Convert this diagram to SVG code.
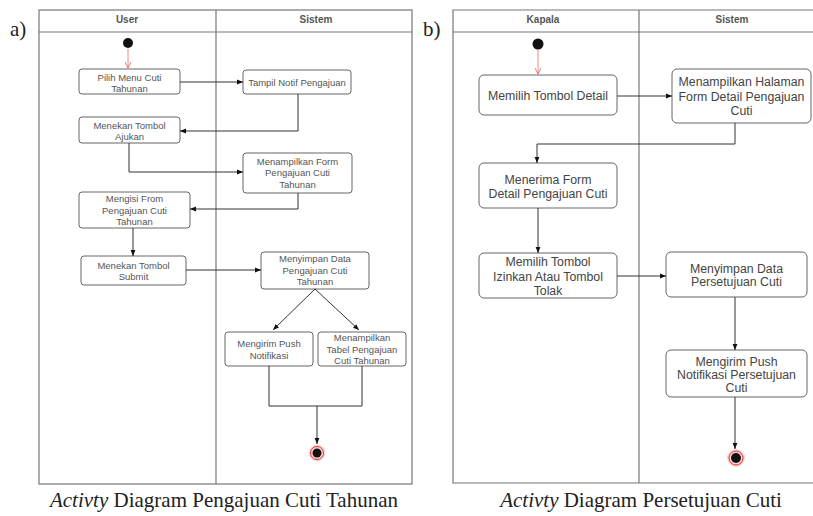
<svg xmlns="http://www.w3.org/2000/svg" width="813" height="516" viewBox="0 0 813 516">
<style>
.lane{fill:none;stroke:#777;stroke-width:1.2}
.node rect{fill:#fff;stroke:#666;stroke-width:1}
.ta{font-family:"Liberation Sans",Arial,sans-serif;font-size:9.5px;fill:#555;text-anchor:middle}
.tb{font-family:"Liberation Sans",Arial,sans-serif;font-size:12.3px;fill:#444;text-anchor:middle}
.hd{font-family:"Liberation Sans",Arial,sans-serif;font-size:10px;font-weight:bold;fill:#555;text-anchor:middle}
.edge{fill:none;stroke:#333;stroke-width:1}
.red{fill:none;stroke:#e88;stroke-width:1}
.lbl{font-family:"Liberation Serif","Times New Roman",serif;font-size:21px;fill:#222}
.cap{font-family:"Liberation Serif","Times New Roman",serif;font-size:21px;fill:#222;text-anchor:middle}
</style>
<defs>
<marker id="ar" viewBox="0 0 10 10" refX="10" refY="5" markerWidth="6" markerHeight="6" orient="auto"><path d="M0,1 L10,5 L0,9 z" fill="#111"/></marker>
<marker id="arr" viewBox="0 0 10 10" refX="10" refY="5" markerWidth="6" markerHeight="6" orient="auto"><path d="M0,0 L10,5 L0,10" fill="none" stroke="#e66" stroke-width="1.5"/></marker>
</defs>
<rect width="813" height="516" fill="#fff"/>

<!-- Panel a -->
<text class="lbl" x="10" y="36">a)</text>
<g id="laneA">
<rect class="lane" x="39" y="10" width="373" height="474"/>
<line class="lane" x1="39" y1="32" x2="412" y2="32"/>
<line class="lane" x1="216" y1="10" x2="216" y2="484"/>
<text class="hd" x="127" y="23">User</text>
<text class="hd" x="316" y="23">Sistem</text>
</g>
<g id="a_start"><circle cx="128" cy="43" r="5" fill="#111"/></g>
<g id="a_n1" class="node"><rect x="79" y="69" width="101" height="25" rx="3"/><text class="ta" x="129.5" y="80.5">Pilih Menu Cuti</text><text class="ta" x="129.5" y="91.5">Tahunan</text></g>
<g id="a_n2" class="node"><rect x="243" y="70" width="108" height="24" rx="3"/><text class="ta" x="297" y="85.5">Tampil Notif Pengajuan</text></g>
<g id="a_n3" class="node"><rect x="79" y="117" width="101" height="26" rx="3"/><text class="ta" x="129.5" y="129">Menekan Tombol</text><text class="ta" x="129.5" y="140">Ajukan</text></g>
<g id="a_n4" class="node"><rect x="243" y="153" width="109" height="40" rx="3"/><text class="ta" x="297.5" y="164.5">Menampilkan Form</text><text class="ta" x="297.5" y="176">Pengajuan Cuti</text><text class="ta" x="297.5" y="187.5">Tahunan</text></g>
<g id="a_n5" class="node"><rect x="79" y="192" width="111" height="36" rx="3"/><text class="ta" x="134.5" y="201.5">Mengisi From</text><text class="ta" x="134.5" y="213.5">Pengajuan Cuti</text><text class="ta" x="134.5" y="224.5">Tahunan</text></g>
<g id="a_n6" class="node"><rect x="81" y="256" width="105" height="29" rx="3"/><text class="ta" x="133.5" y="268.5">Menekan Tombol</text><text class="ta" x="133.5" y="279.5">Submit</text></g>
<g id="a_n7" class="node"><rect x="261" y="252" width="108" height="37" rx="3"/><text class="ta" x="315" y="261.5">Menyimpan Data</text><text class="ta" x="315" y="273.5">Pengajuan Cuti</text><text class="ta" x="315" y="285">Tahunan</text></g>
<g id="a_n8" class="node"><rect x="225" y="332" width="88" height="34" rx="3"/><text class="ta" x="269" y="346.5">Mengirim Push</text><text class="ta" x="269" y="358.5">Notifikasi</text></g>
<g id="a_n9" class="node"><rect x="318" y="332" width="88" height="34" rx="3"/><text class="ta" x="362" y="341">Menampilkan</text><text class="ta" x="362" y="352.5">Tabel Pengajuan</text><text class="ta" x="362" y="364">Cuti Tahunan</text></g>
<g id="a_end"><circle cx="317" cy="453" r="8.5" fill="#fbb" opacity="0.6"/><circle cx="317" cy="453" r="6.5" fill="none" stroke="#d33" stroke-width="1"/><circle cx="317" cy="453" r="4.5" fill="#111"/></g>

<!-- Panel b -->
<text class="lbl" x="423" y="36">b)</text>
<g id="laneB">
<path class="lane" d="M813,10 H453 V483 H813"/>
<line class="lane" x1="453" y1="32" x2="813" y2="32"/>
<line class="lane" x1="639" y1="10" x2="639" y2="483"/>
<text class="hd" x="543" y="23">Kapala</text>
<text class="hd" x="732" y="23">Sistem</text>
</g>
<g id="b_start"><circle cx="538" cy="44" r="5.5" fill="#111"/></g>
<g id="b_n1" class="node"><rect x="479" y="75" width="138" height="40" rx="5"/><text class="tb" x="548" y="99.5">Memilih Tombol Detail</text></g>
<g id="b_n2" class="node"><rect x="672" y="69" width="139" height="54" rx="5"/><text class="tb" x="741.5" y="86">Menampilkan Halaman</text><text class="tb" x="741.5" y="100.5">Form Detail Pengajuan</text><text class="tb" x="741.5" y="114.5">Cuti</text></g>
<g id="b_n3" class="node"><rect x="479" y="163" width="138" height="45" rx="5"/><text class="tb" x="548" y="184">Menerima Form</text><text class="tb" x="548" y="197.5">Detail Pengajuan Cuti</text></g>
<g id="b_n4" class="node"><rect x="479" y="253" width="138" height="45" rx="5"/><text class="tb" x="548" y="266">Memilih Tombol</text><text class="tb" x="548" y="280.5">Izinkan Atau Tombol</text><text class="tb" x="548" y="294.5">Tolak</text></g>
<g id="b_n5" class="node"><rect x="666" y="252" width="141" height="45" rx="5"/><text class="tb" x="736.5" y="272.5">Menyimpan Data</text><text class="tb" x="736.5" y="286">Persetujuan Cuti</text></g>
<g id="b_n6" class="node"><rect x="666" y="350" width="141" height="47" rx="5"/><text class="tb" x="736.5" y="365.5">Mengirim Push</text><text class="tb" x="736.5" y="378.5">Notifikasi Persetujuan</text><text class="tb" x="736.5" y="392">Cuti</text></g>
<g id="b_end"><circle cx="736" cy="458" r="9" fill="#fbb" opacity="0.6"/><circle cx="736" cy="458" r="7" fill="none" stroke="#d33" stroke-width="1"/><circle cx="736" cy="458" r="5" fill="#111"/></g>

<g id="connectors">
<path class="red" d="M128,49 V68" marker-end="url(#arr)"/>
<path class="edge" d="M180,82 H243" marker-end="url(#ar)"/>
<path class="edge" d="M298,94 V131 H180" marker-end="url(#ar)"/>
<path class="edge" d="M129,143 V172 H243" marker-end="url(#ar)"/>
<path class="edge" d="M298,193 V209 H190" marker-end="url(#ar)"/>
<path class="edge" d="M133,228 V256" marker-end="url(#ar)"/>
<path class="edge" d="M186,270 H261" marker-end="url(#ar)"/>
<path class="edge" d="M315,289 L273,330" marker-end="url(#ar)"/>
<path class="edge" d="M315,289 L359,330" marker-end="url(#ar)"/>
<path class="edge" d="M269,366 V406 H362 V366"/>
<path class="edge" d="M317,406 V444" marker-end="url(#ar)"/>

<path class="red" d="M538,50 V74" marker-end="url(#arr)"/>
<path class="edge" d="M617,96 H672" marker-end="url(#ar)"/>
<path class="edge" d="M735,123 V144 H537 V163" marker-end="url(#ar)"/>
<path class="edge" d="M538,208 V253" marker-end="url(#ar)"/>
<path class="edge" d="M617,276 H666" marker-end="url(#ar)"/>
<path class="edge" d="M735,297 V350" marker-end="url(#ar)"/>
<path class="edge" d="M735,397 V449" marker-end="url(#ar)"/>
</g>

<text class="cap" x="224" y="507"><tspan font-style="italic">Activty</tspan> Diagram Pengajuan Cuti Tahunan</text>
<text class="cap" x="641" y="507"><tspan font-style="italic">Activty</tspan> Diagram Persetujuan Cuti</text>
</svg>
